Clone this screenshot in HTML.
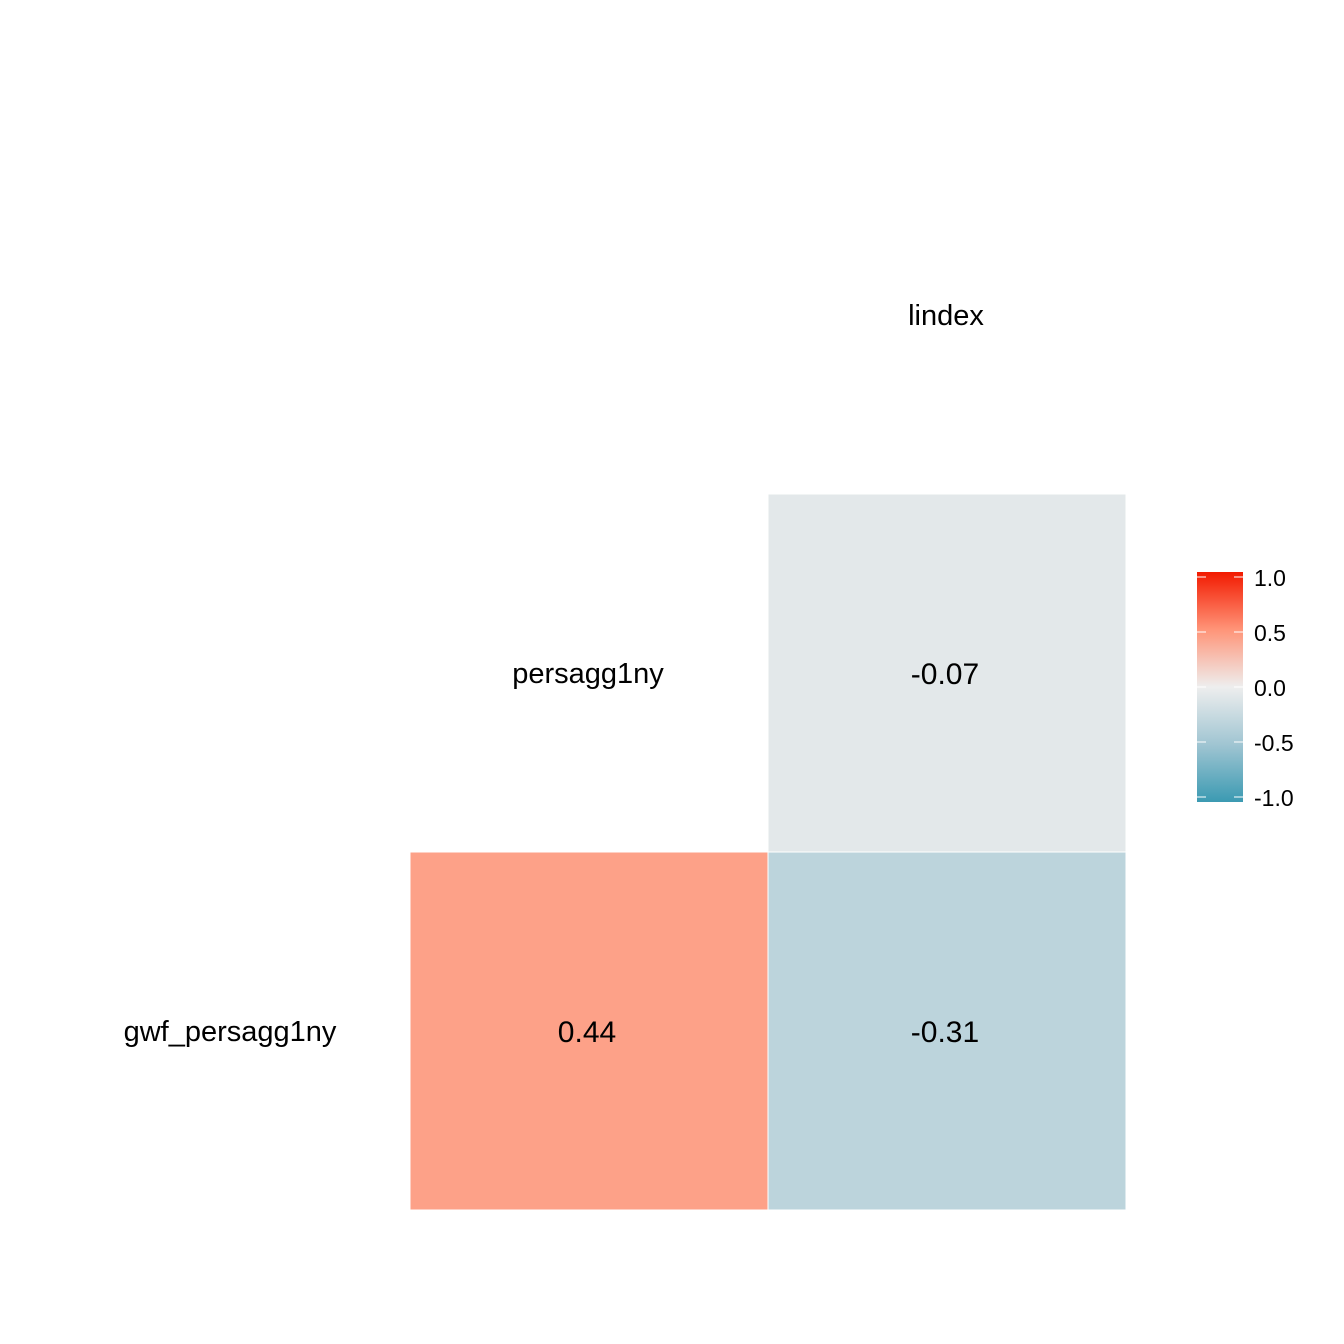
<!DOCTYPE html>
<html><head><meta charset="utf-8"><style>
body{margin:0;background:#fff}
svg{display:block;font-family:"Liberation Sans",sans-serif}
</style></head><body>
<svg id="chart" width="1344" height="1344" viewBox="0 0 1344 1344">
<defs>
<linearGradient id="lg" x1="0" y1="1" x2="0" y2="0">
<stop offset="0" stop-color="#3B9AB2"/>
<stop offset="0.25" stop-color="#A0C5D2"/>
<stop offset="0.5" stop-color="#EEEEEE"/>
<stop offset="0.75" stop-color="#FF9478"/>
<stop offset="1" stop-color="#F21A00"/>
</linearGradient>
</defs>
<g id="cells"></g>
<g id="labels"></g>
<g id="legend">
<rect x="1197" y="572" width="46" height="230" fill="url(#lg)"/>
</g>
</svg>
<script>
const vars = ["gwf_persagg1ny","persagg1ny","lindex"];
const rowIdx = [0,0,1];
const colIdx = [0,1,1];
const corrValues = [0.44,-0.31,-0.07];
const legendTicks = [1.0,0.5,0.0,-0.5,-1.0];
const legendLabels = ["1.0","0.5","0.0","-0.5","-1.0"];

const NS="http://www.w3.org/2000/svg";
const x0=410, y0=1210, cw=358;
const xPos=i=>x0+i*cw;
const yPos=i=>y0-(i+1)*cw;
const stops=[[-1,[59,154,178]],[-0.5,[158,196,209]],[0,[238,238,238]],[0.5,[255,150,122]],[1,[242,26,0]]];
function color(v){for(let k=0;k<stops.length-1;k++){const a=stops[k],b=stops[k+1];if(v>=a[0]&&v<=b[0]){const t=(v-a[0])/(b[0]-a[0]);return "rgb("+a[1].map((c,j)=>Math.round(c+(b[1][j]-c)*t)).join(",")+")";}}return "#eee";}
function mk(tag,attrs,parent){const e=document.createElementNS(NS,tag);for(const k in attrs)e.setAttribute(k,attrs[k]);parent.appendChild(e);return e;}
const cells=document.getElementById("cells"),labels=document.getElementById("labels"),leg=document.getElementById("legend");
corrValues.forEach((v,i)=>{
  const r=mk("rect",{x:xPos(colIdx[i]),y:yPos(rowIdx[i]),width:cw,height:cw,fill:color(v),stroke:"#fff","stroke-width":1},cells);
  
  
  const t=mk("text",{x:xPos(colIdx[i])+cw/2-2,y:yPos(rowIdx[i])+cw/2+11,"text-anchor":"middle","font-size":30,fill:"#000"},cells);
  t.textContent=v.toFixed(2);
  
  
});
vars.forEach((n,i)=>{
  const t=mk("text",{x:xPos(i-1)+cw/2-1,y:yPos(i)+cw/2+10,"text-anchor":"middle","font-size":29,fill:"#000"},labels);
  t.textContent=n;
  
  
});
const ly=v=>687-v*110;
legendTicks.forEach((v,i)=>{
  const y=ly(v);
  const a=mk("line",{x1:1197,x2:1206,y1:y,y2:y,stroke:"#fff","stroke-width":1},leg);
  
  
  const b=mk("line",{x1:1234,x2:1243,y1:y,y2:y,stroke:"#fff","stroke-width":1},leg);
  
  
  const t=mk("text",{x:1254,y:y+9,"font-size":23,fill:"#000"},leg);
  t.textContent=legendLabels[i];
  
  
});
</script>
</body></html>
